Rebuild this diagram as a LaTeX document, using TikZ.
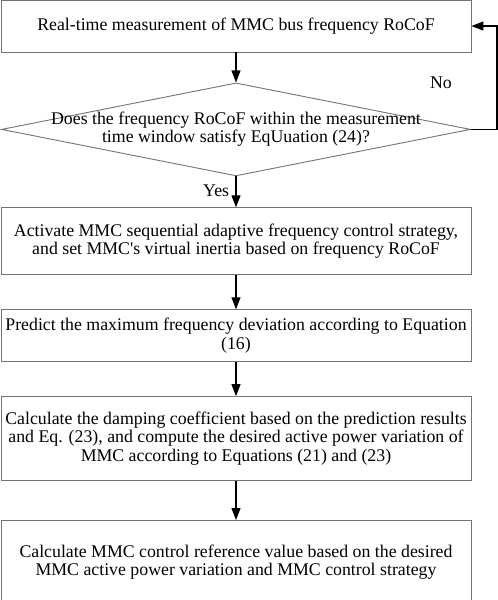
\documentclass[tikz,border=0pt]{standalone}
\usepackage{fontspec}
\setmainfont{Liberation Serif}
\usetikzlibrary{shapes.geometric, arrows.meta, positioning}

\tikzset{
  process/.style={rectangle, draw=black!55, line width=0.9pt, minimum width=470pt,
    align=center, inner sep=0pt, font=\fontsize{17.8}{18.5}\selectfont},
  decision/.style={diamond, draw=black!55, line width=0.9pt, minimum width=469pt,
    minimum height=93pt, inner sep=0pt, aspect=5},
  flow/.style={line width=1.1pt, -{Triangle[length=12pt,width=9pt]}}
}

\begin{document}
\begin{tikzpicture}
\useasboundingbox (0,0) rectangle (498pt,-600pt);
  \node[process, minimum height=52pt] (meas) at (236pt,-26pt)
     {Real-time measurement of MMC bus frequency RoCoF};
  \node[decision, below=30pt of meas,
     label={[align=center, font=\fontsize{17.8}{18.5}\selectfont]center:Does the frequency RoCoF within the measurement\\time window satisfy EqUuation (24)?}] (check) {};
  \node[process, minimum height=67pt, below=31pt of check] (inertia)
     {Activate MMC sequential adaptive frequency control strategy,\\and set MMC\textquotesingle s virtual inertia based on frequency RoCoF};
  \node[process, minimum height=52pt, below=34pt of inertia] (predict)
     {Predict the maximum frequency deviation according to Equation\\(16)};
  \node[process, minimum height=84pt, below=34pt of predict] (damping)
     {Calculate the damping coefficient based on the prediction results\\and Eq. (23), and compute the desired active power variation of\\MMC according to Equations (21) and (23)};
  \node[process, minimum height=83pt, below=39pt of damping] (reference)
     {Calculate MMC control reference value based on the desired\\MMC active power variation and MMC control strategy};

  \draw[flow] (meas) -- (check);
  \draw[flow] (check) -- node[left=3pt, pos=0.45, font=\fontsize{17.8}{18.5}\selectfont] (yes) {Yes} (inertia);
  \draw[flow] (inertia) -- (predict);
  \draw[flow] (predict) -- (damping);
  \draw[flow] (damping) -- (reference);
  \draw[flow] (check.east) -- ++(26pt,0) coordinate (turn) |- (meas.east);
  \node[font=\fontsize{17.8}{18.5}\selectfont] (no) at (441pt,-83pt) {No};
\end{tikzpicture}
\end{document}
